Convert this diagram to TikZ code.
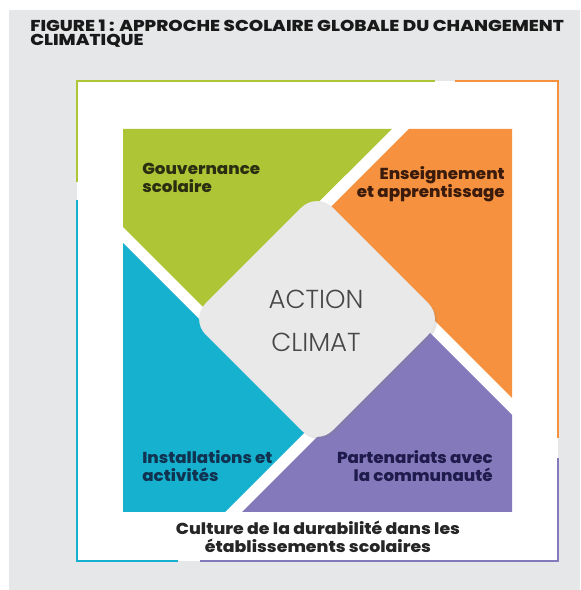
\documentclass[tikz,border=0pt]{standalone}
\usepackage{fontspec}
\setmainfont{Poppins}
\newfontfamily\lightfont{Poppins Light}
\newfontfamily\heavyfont{Poppins ExtraBold}[FakeStretch=1.05]
\newfontfamily\culturefont{Poppins ExtraBold}[FakeStretch=1.09]
\newfontfamily\titlefont{Poppins ExtraBold}[FakeStretch=1.16]
\usepackage{tikz}
\usetikzlibrary{shadows}
\definecolor{gouv}{HTML}{AEC636}
\definecolor{ens}{HTML}{F6923F}
\definecolor{part}{HTML}{8479BA}
\definecolor{inst}{HTML}{17B1D0}
\definecolor{fond}{HTML}{E6E7E8}
\definecolor{centre}{HTML}{E9E9EA}
\definecolor{gouvtxt}{HTML}{2B2E10}
\definecolor{enstxt}{HTML}{3A1B0C}
\definecolor{insttxt}{HTML}{0F3350}
\definecolor{parttxt}{HTML}{1F1B4D}
\tikzset{
    frame/.style={line width=2.1pt, line join=miter},
    quadrant/.style={draw=none},
    etiquette/.style={inner sep=0pt, font=\heavyfont\fontsize{11.3}{12.8}\selectfont},
    titre/.style={inner sep=0pt, align=left, text=black!90, font=\titlefont\fontsize{11.2}{10}\selectfont},
    actiontxt/.style={inner sep=0pt, align=center, text=black!72, font=\lightfont\fontsize{18.5}{30.5}\selectfont},
}
\begin{document}
\begin{tikzpicture}[x=0.025cm, y=0.025cm]
    \useasboundingbox (0,0) rectangle (580,590);
    \fill[fond] (9,0) rectangle (580,580);
    \fill[white] (77,29) rectangle (558,509);
    % cadre exterieur
    \draw[frame, gouv] (77,408) -- (77,509) -- (435,509);
    \draw[frame, ens] (455,509) -- (558,509) -- (558,152);
    \draw[frame, part] (558,132) -- (558,29) -- (200,29);
    \draw[frame, inst] (178,29) -- (77,29) -- (77,390);
    % quadrants
    \fill[quadrant, gouv] (123,461) -- (392,461) -- (208,278) -- (123,363) -- cycle;
    \fill[quadrant, ens] (409,461) -- (512,461) -- (512,192) -- (326,378) -- cycle;
    \fill[quadrant, part] (512,175) -- (512,78) -- (242,78) -- (425.5,261.5) -- cycle;
    \fill[quadrant, inst] (123,347) -- (308.5,161.5) -- (225,78) -- (123,78) -- cycle;
    \fill[centre, rounded corners=0.55cm, drop shadow={opacity=0.2, shadow xshift=1.5pt, shadow yshift=-1.5pt}]
        (317,144) -- (444,271) -- (317,398) -- (190,271) -- cycle;
    % textes
    \node[titre, anchor=north west] (titre) at (30,570) {FIGURE 1 : APPROCHE SCOLAIRE GLOBALE DU CHANGEMENT\\CLIMATIQUE};
    \node[etiquette, anchor=north west, align=left, text=gouvtxt] (gouvernance) at (142,427) {Gouvernance\\scolaire};
    \node[etiquette, anchor=north east, align=right, text=enstxt] (enseignement) at (505,424) {Enseignement\\et apprentissage};
    \node[etiquette, anchor=north west, align=left, text=insttxt] (installations) at (142,140) {Installations et\\activités};
    \node[etiquette, anchor=north east, align=right, text=parttxt] (partenariats) at (493,140) {Partenariats avec\\la communauté};
    \node[etiquette, anchor=north, align=center, text=black!85, font=\culturefont\fontsize{11.3}{12.8}\selectfont] (culture) at (318,69) {Culture de la durabilité dans les\\établissements scolaires};
    \node[actiontxt, anchor=north] (action) at (316,300) {ACTION\\CLIMAT};
\end{tikzpicture}
\end{document}
